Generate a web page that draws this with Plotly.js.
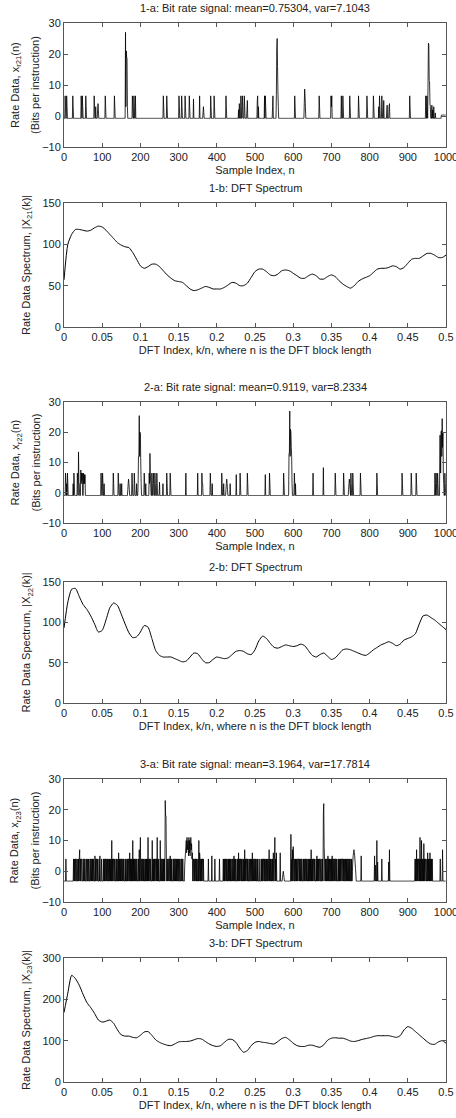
<!DOCTYPE html>
<html>
<head>
<meta charset="utf-8">
<script src="https://cdn.plot.ly/plotly-3.0.1.min.js"></script>
<style>html,body{margin:0;padding:0;background:#fff;}#chart{width:456px;height:1118px;}</style>
</head>
<body>
<div id="chart"></div>
<script>
// ---------- DATA ----------
const sampleCount = 1000;

// Signal 1 (mean removed, baseline = -mean)
const sig1Base = -0.75;
const sig1Spikes = [[3,6.5],[4,3],[7,6.5],[8,3],[23,6.5],[24,3],[45,6.5],[46,3],[48,6.5],[49,3],[57,6.5],[58,3],[79,6.5],[80,3],[83,3],[88,2],[89,4],[90,2],[108,6.5],[109,3],[132,6.5],[133,3],[161,27],[162,3],[163,21],[164,19],[165,18.5],[166,3],[179,6.5],[180,3],[183,6.5],[184,3],[187,6.5],[260,6.5],[261,3],[269,6.5],[270,3],[301,6.5],[302,3],[308,6.5],[309,3],[317,6.5],[318,3],[328,6.5],[329,3],[339,5.5],[355,6.5],[364,1],[365,3],[366,1],[384,6.5],[385,3],[393,6.5],[394,3],[424,6.5],[425,3],[457,2],[459,4],[463,6.5],[464,3],[467,6.5],[468,3],[472,6.5],[473,3],[479,2],[480,5],[506,5],[507,6.5],[509,3],[525,6.5],[527,6.5],[528,3],[546,3],[547,6.5],[556,7],[557,22],[558,25],[559,16],[560,8],[561,3],[604,6.5],[605,3],[629,4],[630,8.7],[631,6.5],[632,3],[668,6.5],[669,3],[699,6.5],[700,3],[701,6.5],[726,6.5],[730,6.5],[731,3],[748,6.5],[749,3],[771,6.5],[772,3],[793,6.5],[794,3],[810,6.5],[811,3],[824,3],[826,6.5],[827,3],[832,6.5],[833,3],[837,5],[845,2],[846,3.5],[851,3],[852,4],[905,6.5],[906,3],[947,6.5],[948,3],[950,6.5],[951,3],[953,11.5],[954,23.5],[955,23],[956,11.5],[957,11],[958,4],[959,3],[963,3.5],[965,2],[968,3],[972,1],[988,0.3],[989,0.3],[990,0.3],[991,0.3],[992,0.3],[993,0.3],[994,0.3],[995,0.3],[996,0.3],[997,0.3],[998,0.3],[999,0.3]];

// Signal 2
const sig2Base = -0.91;
const sig2Spikes = [[4,6.5],[5,3],[7,3],[9,6.5],[10,3],[24,3],[26,6.5],[27,3],[35,6.5],[36,3],[38,13.5],[39,3],[40,3],[44,7.5],[45,3],[46,6.5],[47,4],[48,6.5],[51,6.5],[52,3],[53,6],[54,3],[55,6],[97,6.5],[98,3],[101,6.5],[102,3],[105,3],[129,6.5],[130,3],[142,6.5],[143,3],[147,3],[151,3],[167,1],[168,3],[169,4.5],[170,3],[171,1],[178,6.5],[179,3],[184,6.5],[185,3],[190,3],[194,3],[195,12],[196,12],[197,25.5],[198,12],[199,20],[200,19.5],[201,9.5],[202,3],[210,6.5],[211,3],[214,3],[223,6.5],[224,3],[225,13],[226,6.5],[227,3],[230,6.5],[231,3],[234,6.5],[235,3],[238,6.5],[239,3],[243,6.5],[244,3],[250,3.5],[259,3],[269,6.5],[270,3],[278,6.5],[279,3],[319,6.5],[350,6.5],[361,6.5],[362,3],[363,3],[383,6.5],[384,3],[388,3],[413,6.5],[414,3],[418,3],[424,1],[425,3],[426,4.5],[427,3],[428,1],[435,3],[451,6],[461,6.5],[462,3],[480,6.5],[481,3],[527,6],[538,6.5],[539,3],[575,6.5],[576,3],[589,13],[590,13],[591,27],[592,12],[593,21],[594,20],[595,15],[596,12],[597,3],[603,6.5],[604,3],[606,3],[652,6.5],[679,8.3],[710,6.5],[711,3],[732,6.5],[733,3],[745,1],[746,3],[747,4.5],[748,3],[749,1],[751,6.5],[752,3],[756,6.5],[757,3],[776,6.5],[777,3],[819,6.5],[820,3],[885,6.5],[886,3],[909,6.5],[910,3],[922,6.5],[923,3],[971,6.5],[972,3],[974,6.5],[975,3],[978,6.5],[979,3],[984,19],[985,19],[986,6.5],[987,20],[988,20.5],[989,12],[990,24.5],[991,15],[992,20],[993,6.5],[994,3],[997,6.5],[998,3]];

// Signal 3: dense, stored as coded runs (one character per sample)
const sig3Base = -3.2;
const sig3CodeChars = ".,~0123456789abcdefghijklmn";
const sig3CodeVals = [-3.2,-2,-1,0,1,2,3,4,5,6,7,8,9,10,11,12,13,14,15,16,17,18,19,20,21,22,23];
const sig3SegStart = [5,25,95,105,200,265,273,313,339,378,387,395,407,417,509,518,566,572,594,596,614,627,673,686,755,778,813,832,850,919,985];
const sig3SegCode = [
 "4",
 "4.4.44.4...4.4.47.4.44...4.44.4...4..4.4...4.44.4.4.4...5.4.44.4...4.5.4...",
 "...4....4.",
 "4.4.44.4.4..4.4.4.4.a.4.44.4...4.4..4.6.4.4.4.44.4.4...4.4..4.4.44.6.4.4.4.a.4.4.4.44.4...4.7.4.",
 "b.4.44.4.4..4.4.4.4.b.4.44.4...a.4.4.4.44.4.b.4.4...a.4.44.4.4.4.4",
 "nii4.4.4",
 "4.44.5.4.4...4.4.44.4.4.4..4.4...4.44.4...",
 "...2468a6b79a5b6a58b7946.4.6",
 "4.4.44.4.4..4.a.64.4.4.44.4..",
 "4","5","4","4",
 "4.4.4.44.4..4.4.4.4.4..4.44.5.4.4...4.4.6.4.44.4.4..4.4.7.4.44.4.4...4.4..4.6.4.44.4.4..4.4.4..",
 "..4....4.",
 "4.4.44.4.4..4.4.44.7.4.4..4.4.6..4b.4.6.",
 "6",
 ",~0~,",
 "c",
 "4.7.84.4..4.4.4.44",
 "4.4.4.44.4",
 "4.4.44.4.4..4.4.4.4.7.4.4.44.4...4.5.4.4.44.4.4.4",
 "..4.4.jm84.4.",
 "4.44.5.4.4..4.4.5.4.44.4.44.4...4.4.4.4.44.44.4.4..4.4.4.44.4.4..4.4",
 "035676531~",
 "5",
 "5.2...a.3",
 "4",
 "3.7",
 "4.4.7.4.44.4.b.4.a.4.4.9.4.44..4.6.4.4.6.4.4.4",
 "4.....7"
];

// DFT spectra, sampled every 0.005 of k/n from 0 to 0.5
const spec1 = [57,100,112,118,118,117,116,117,120,122,
 121,117,112,107,102,99,97,96,90,82,
 74,71,73,76,76,73,68,63,59,56,
 55,54,50,46,44,45,47,49,48,46,
 46,46,48,51,54,53,50,50,53,60,
 67,70,70,67,63,62,64,68,69,68,
 65,62,59,59,62,64,62,58,58,61,
 63,61,56,52,49,47,50,55,58,60,
 62,66,70,71,71,72,74,73,70,72,
 77,82,83,83,86,89,89,87,84,84,
 87];
const spec2 = [93,125,141,142,132,122,116,108,98,88,
 90,103,118,124,121,110,98,87,81,82,
 88,96,94,80,65,59,57,57,57,55,
 53,51,52,57,62,61,55,50,50,54,
 57,56,55,56,60,64,65,64,61,60,
 66,77,83,80,74,69,68,70,72,71,
 70,71,73,71,65,59,57,60,62,58,
 54,56,61,66,67,66,64,62,60,59,
 62,66,69,72,74,76,74,71,73,78,
 80,82,86,98,108,109,106,103,99,95,
 91];
const spec3 = [168,215,258,250,234,212,192,180,166,150,
 145,147,150,142,126,114,111,111,108,107,
 113,121,122,113,102,96,92,89,88,92,
 97,98,98,99,102,105,104,98,92,88,
 86,88,96,103,103,96,82,72,76,88,
 96,98,96,95,93,92,98,105,108,102,
 94,88,86,86,89,89,86,84,90,101,
 106,107,106,106,103,99,98,100,103,105,
 107,110,112,112,112,112,110,108,112,126,
 134,130,122,114,106,98,92,91,97,100,
 94];
const specStep = 0.005;

const titlesA = ["1-a: Bit rate signal: mean=0.75304, var=7.1043",
                 "2-a: Bit rate signal: mean=0.9119, var=8.2334",
                 "3-a: Bit rate signal: mean=3.1964, var=17.7814"];
const titlesB = ["1-b: DFT Spectrum","2-b: DFT Spectrum","3-b: DFT Spectrum"];
const subIds = ["21","22","23"];
const specRanges = [[0,150],[0,150],[0,300]];
const specDticks = [50,50,100];

// ---------- BUILD SERIES ----------
const sampleX = [];
for (let i = 0; i < sampleCount; i++) sampleX.push(i);

function fromSpikes(base, spikes) {
  const y = new Array(sampleCount).fill(base);
  spikes.forEach(p => { y[p[0]] = p[1]; });
  return y;
}
function fromCodes(base, starts, codes) {
  const y = new Array(sampleCount).fill(base);
  starts.forEach((s, k) => {
    const str = codes[k];
    for (let j = 0; j < str.length; j++) {
      const n = s + j;
      if (n >= sampleCount) break;
      y[n] = sig3CodeVals[sig3CodeChars.indexOf(str[j])];
    }
  });
  return y;
}
const sigs = [fromSpikes(sig1Base, sig1Spikes), fromSpikes(sig2Base, sig2Spikes), fromCodes(sig3Base, sig3SegStart, sig3SegCode)];
const specs = [spec1, spec2, spec3];
const specX = spec1.map((_, i) => i * specStep);

// ---------- LAYOUT ----------
const FONT = "Liberation Sans, Arial, Helvetica, sans-serif";
const TXT = "#222";
const BOX = "#555";
const H = 1118;
// pixel rows of plot boxes [top,bottom]
const boxes = [[23,147],[203,327],[402,523],[582,703],[779,902],[958,1082]];

const traces = [];
const layout = {
  width: 456, height: H,
  margin: {l: 64, r: 10, t: 0, b: 0, pad: 0},
  paper_bgcolor: "#fff", plot_bgcolor: "#fff",
  showlegend: false,
  font: {family: FONT, size: 11, color: TXT},
  annotations: []
};

function axisBase() {
  return {showline: true, linecolor: BOX, linewidth: 1, mirror: "ticks",
          ticks: "inside", ticklen: 4, tickcolor: BOX, tickwidth: 1,
          showgrid: false, zeroline: false, fixedrange: true,
          ticklabeloverflow: "allow",
          tickfont: {family: FONT, size: 11, color: TXT}};
}

for (let p = 0; p < 6; p++) {
  const idx = p + 1;
  const xName = idx === 1 ? "xaxis" : "xaxis" + idx;
  const yName = idx === 1 ? "yaxis" : "yaxis" + idx;
  const xRef = idx === 1 ? "x" : "x" + idx;
  const yRef = idx === 1 ? "y" : "y" + idx;
  const top = boxes[p][0], bot = boxes[p][1];
  const dom = [1 - bot / H, 1 - top / H];
  const group = Math.floor(p / 2);
  const isA = p % 2 === 0;

  const xa = axisBase();
  const ya = axisBase();
  xa.anchor = yRef; ya.anchor = xRef; ya.domain = dom;
  if (isA) {
    xa.range = [0, 1000]; xa.tick0 = 0; xa.dtick = 100;
    ya.range = [-10, 30]; ya.tick0 = -10; ya.dtick = 10;
    xa.title = {text: "Sample Index, n", font: {family: FONT, size: 11, color: TXT}, standoff: 4};
    traces.push({x: sampleX, y: sigs[group], type: "scatter", mode: "lines",
                 line: {color: "#000", width: 0.8, simplify: false}, xaxis: xRef, yaxis: yRef, hoverinfo: "skip"});
    layout.annotations.push({text: titlesA[group], xref: "paper", yref: "paper", x: 0.5, y: dom[1],
      xanchor: "center", yanchor: "middle", yshift: 15, showarrow: false, font: {family: FONT, size: 11, color: TXT}});
    layout.annotations.push({text: "Rate Data, x<sub>r" + subIds[group] + "</sub>(n)", xref: "paper", yref: "paper",
      x: -0.1257, y: (dom[0] + dom[1]) / 2, xanchor: "center", yanchor: "middle", textangle: -90, showarrow: false,
      font: {family: FONT, size: 11, color: TXT}});
    layout.annotations.push({text: "(Bits per instruction)", xref: "paper", yref: "paper",
      x: -0.0759, y: (dom[0] + dom[1]) / 2, xanchor: "center", yanchor: "middle", textangle: -90, showarrow: false,
      font: {family: FONT, size: 11, color: TXT}});
  } else {
    xa.range = [0, 0.5]; xa.tick0 = 0; xa.dtick = 0.05;
    ya.range = specRanges[group]; ya.tick0 = 0; ya.dtick = specDticks[group];
    xa.title = {text: "DFT Index, k/n, where n is the DFT block length", font: {family: FONT, size: 11, color: TXT}, standoff: 4};
    traces.push({x: specX, y: specs[group], type: "scatter", mode: "lines", line: {color: "#000", width: 1, shape: "spline", smoothing: 0.6},
                 xaxis: xRef, yaxis: yRef, hoverinfo: "skip"});
    layout.annotations.push({text: titlesB[group], xref: "paper", yref: "paper", x: 0.5, y: dom[1],
      xanchor: "center", yanchor: "middle", yshift: 15, showarrow: false, font: {family: FONT, size: 11, color: TXT}});
    layout.annotations.push({text: "Rate Data Spectrum, |X<sub>" + subIds[group] + "</sub>(k)|", xref: "paper", yref: "paper",
      x: -0.0969, y: (dom[0] + dom[1]) / 2, xanchor: "center", yanchor: "middle", textangle: -90, showarrow: false,
      font: {family: FONT, size: 11, color: TXT}});
  }
  layout[xName] = xa;
  layout[yName] = ya;
}

Plotly.newPlot("chart", traces, layout, {displayModeBar: false, staticPlot: true});
</script>
</body>
</html>
